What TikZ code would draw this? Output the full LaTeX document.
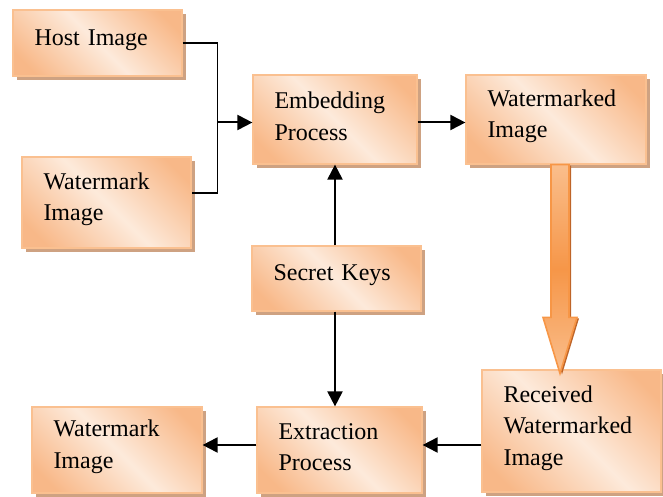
\documentclass[tikz,border=0pt]{standalone}
\usepackage{fontspec}
\setmainfont{Liberation Serif}
\usetikzlibrary{arrows.meta,positioning,shadows}

\definecolor{boxorange}{RGB}{248,184,136}
\definecolor{boxlight}{RGB}{253,234,219}
\definecolor{boxedge}{RGB}{250,192,144}
\definecolor{boxshade}{RGB}{206,162,130}
\definecolor{arrowlight}{RGB}{250,190,140}
\definecolor{arrowdark}{RGB}{246,150,72}
\definecolor{arrowedge}{RGB}{247,150,70}
\definecolor{arrowshade}{RGB}{190,100,40}

% corner-to-corner fill of the boxes
\pgfdeclareverticalshading{boxgrad}{100bp}{color(0bp)=(boxorange); color(22bp)=(boxorange);
    color(50bp)=(boxlight); color(78bp)=(boxorange); color(100bp)=(boxorange)}

\begin{document}
\begin{tikzpicture}[x=1pt,y=1pt,on grid,
    procbox/.style={rectangle, draw=boxedge, line width=0.6pt,
        shading=boxgrad, shading angle=-45,
        drop shadow={shadow xshift=1.75pt, shadow yshift=-2pt, fill=boxshade, opacity=1},
        inner xsep=10.75pt, inner ysep=0pt, align=left,
        font=\fontsize{12}{15.75}\selectfont,
        execute at end node={\endgraf\vspace*{3pt}}},
    flow/.style={line width=1pt, -{Triangle[length=7.5pt,width=7.5pt]}},
    mergeline/.style={line width=0.65pt},
    bigarrow/.style={draw=arrowedge, line width=0.8pt,
        top color=arrowlight, bottom color=arrowlight, middle color=arrowdark,
        drop shadow={shadow xshift=1pt, shadow yshift=-0.5pt, fill=arrowshade, opacity=1}}]
\useasboundingbox (0,0) rectangle (331.5,-248.5);

% embedding side
\node[procbox, text width=60.5pt, minimum height=44.5pt] (emb) at (167.5,-59.75) {Embedding\\Process};
\node[procbox, text width=68.5pt, minimum height=44.5pt] (wmkd) [right=110.5pt of emb] {Watermarked\\Image};
\node[procbox, text width=63pt, minimum height=33pt] (host) at (48.75,-21.5) {Host Image};
\node[procbox, text width=63pt, minimum height=45.5pt] (wmin) [below right=79.75pt and 4.5pt of host] {Watermark\\Image};
\node[procbox, text width=63pt, minimum height=32.5pt] (keys) [below right=79.5pt and 0.75pt of emb] {Secret Keys};

% extraction side
\node[procbox, text width=61pt, minimum height=43pt] (ext) [below right=85.75pt and 1.5pt of keys] {Extraction\\Process};
\node[procbox, text width=63.5pt, minimum height=43pt] (wmout) [left=111.25pt of ext] {Watermark\\Image};
\node[procbox, text width=68pt, minimum height=61pt] (recv) [above right=9.5pt and 116pt of ext] {Received\\Watermarked\\Image};

% inputs joined into the embedder
\coordinate (embin) at ([yshift=-1.5pt]emb.west);
\draw[mergeline] (host.east) -- ++(17.5,0) coordinate (hj) |- ([yshift=4.75pt]wmin.east);
\draw[flow] (hj |- embin) -- (embin);
\draw[flow] (embin -| emb.east) -- (embin -| wmkd.west);

% keys feed both processes
\draw[flow] (emb.south |- keys.north) -- (emb.south);
\draw[flow] (emb.south |- keys.south) -- (emb.south |- ext.north);

% extraction chain
\coordinate (extin) at ([yshift=2.5pt]ext.east);
\draw[flow] (recv.west |- extin) -- (extin);
\draw[flow] (extin -| ext.west) -- (extin -| wmout.east);

% transmission arrow
\coordinate (arrtop) at ([xshift=2pt]wmkd.south);
\coordinate (arrtip) at ([yshift=-2pt]arrtop |- recv.north);
\path[bigarrow] ([xshift=-4.5pt]arrtop) -- ([xshift=-4.5pt,yshift=28pt]arrtip)
    -- ([xshift=-8.5pt,yshift=28pt]arrtip) -- (arrtip)
    -- ([xshift=8.5pt,yshift=28pt]arrtip) -- ([xshift=4.5pt,yshift=28pt]arrtip)
    -- ([xshift=4.5pt]arrtop) -- cycle;
\end{tikzpicture}
\end{document}
